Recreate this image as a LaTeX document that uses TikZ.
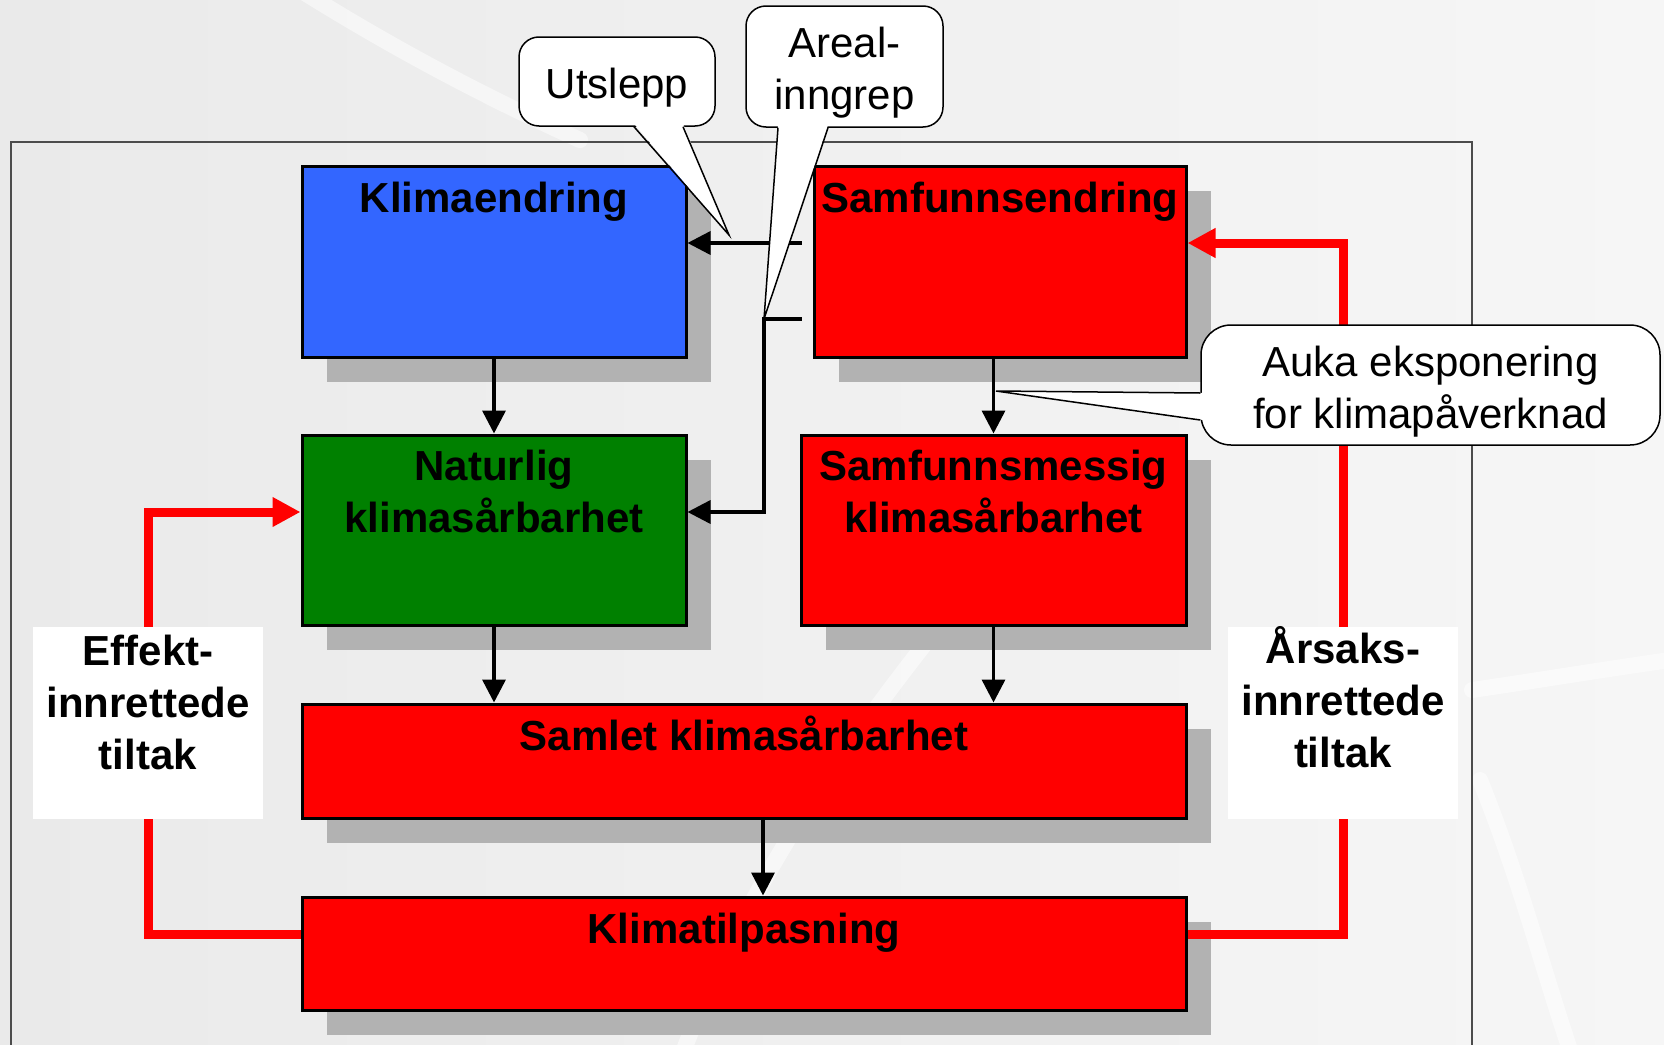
\documentclass[tikz,border=0pt]{standalone}
\usepackage{fontspec}
\setmainfont{Liberation Sans}
\usetikzlibrary{arrows.meta,shadows}

\definecolor{klimablue}{RGB}{51,102,255}
\definecolor{naturgreen}{RGB}{0,128,0}
\definecolor{samfred}{RGB}{255,0,0}
\definecolor{shadowgray}{RGB}{178,178,178}
\definecolor{bgleft}{RGB}{234,234,234}
\definecolor{bgright}{RGB}{246,246,246}
\newcommand{\bigfont}{\fontsize{42}{52}\selectfont}

\tikzset{
  box/.style={draw=black, line width=3pt, inner sep=0pt,
    drop shadow={shadow xshift=25pt, shadow yshift=-25pt, fill=shadowgray, opacity=1}},
  boxtext/.style={anchor=north, yshift=-8pt, inner sep=0pt, align=center,
    font=\bigfont\bfseries, execute at begin node=\rule{0pt}{40pt}},
  tiltak/.style={fill=white, inner sep=0pt, minimum width=230pt, minimum height=192pt},
  callout/.style={draw=black, fill=white, line width=1.5pt, rounded corners=20pt, inner sep=0pt},
  callouttext/.style={anchor=north, inner sep=0pt, align=center,
    font=\bigfont, execute at begin node=\rule{0pt}{40pt}},
  pointer/.style={draw=black, line width=1.5pt, line join=miter},
  arr/.style={draw=black, line width=3.5pt, -{Triangle[length=23pt,width=23pt]}},
  redarr/.style={draw=samfred, line width=9pt, -{Triangle[length=28pt,width=28pt]}},
  frameline/.style={draw=black!70, line width=1.5pt},
  streak/.style={white, line width=16pt, opacity=0.5, line cap=round}
}

\begin{document}
\begin{tikzpicture}[x=1pt, y=-1pt]
	\useasboundingbox (0,0) rectangle (1664,1044);
	\clip (0,0) rectangle (1664,1044);

	% background
	\shade[left color=bgleft, right color=bgright] (0,0) rectangle (1664,1044);
	\draw[streak] (300,-10) .. controls (380,40) and (470,90) .. (580,140);
	\draw[streak] (680,1060) .. controls (740,900) and (830,760) .. (960,600);
	\draw[streak] (1472,690) .. controls (1540,680) and (1600,670) .. (1670,660);
	\draw[streak] (1480,780) .. controls (1520,880) and (1540,960) .. (1570,1050);
	\draw[frameline] (11,1060) -- (11,142) -- (1472,142) -- (1472,1060);

	% fixed points
	\coordinate (effektmid) at (148,723);
	\coordinate (aarsakmid) at (1343,723);
	\coordinate (utslepptip) at (729,235);
	\coordinate (arealtip) at (764,319);
	\coordinate (aukatip) at (996,391);

	% boxes
	\node[box, fill=klimablue, minimum width=384pt, minimum height=191pt,
		label={[boxtext]north:Klimaendring}] (klima) at (494,261.5) {};
	\node[box, fill=samfred, minimum width=372pt, minimum height=191pt,
		label={[boxtext]north:Samfunnsendring}] (samf) at (1000,261.5) {};
	\node[box, fill=naturgreen, minimum width=384pt, minimum height=190pt,
		label={[boxtext, yshift=-8pt]north:Naturlig\\klimasårbarhet}] (natur) at (494,530) {};
	\node[box, fill=samfred, minimum width=385pt, minimum height=190pt,
		label={[boxtext, yshift=-8pt]north:Samfunnsmessig\\klimasårbarhet}] (samfmess) at (993.5,530) {};
	\node[box, fill=samfred, minimum width=884pt, minimum height=114pt,
		label={[boxtext]north:Samlet klimasårbarhet}] (samlet) at (744,761) {};
	\node[box, fill=samfred, minimum width=884pt, minimum height=113pt,
		label={[boxtext]north:Klimatilpasning}] (tilpas) at (744,953.5) {};

	% feedback loops
	\draw[redarr] ([yshift=19.5pt]tilpas.west) -| (effektmid) |- ([yshift=18pt]natur.west);
	\draw[redarr] ([yshift=19.5pt]tilpas.east) -| (aarsakmid) |- ([yshift=18.5pt]samf.east);

	% causal arrows
	\draw[arr] (klima) -- (natur);
	\draw[arr] (samf.south -| samfmess.north) -- (samfmess.north);
	\draw[arr] (natur.south) -- (natur.south |- samlet.north);
	\draw[arr] (samfmess.south) -- (samfmess.south |- samlet.north);
	\draw[arr] ([xshift=19pt]samlet.south) -- ([xshift=19pt]tilpas.north);
	\draw[arr, shorten <=11pt] ([yshift=18.5pt]samf.west) -- ([yshift=18.5pt]klima.east);
	\draw[arr, shorten <=11pt] ([yshift=-57.5pt]samf.west) -- (arealtip) |- ([yshift=18pt]natur.east);

	% measures
	\node[tiltak, label={[boxtext]north:Effekt-\\innrettede\\tiltak}] (effekt) at (effektmid) {};
	\node[tiltak, label={[boxtext, yshift=9pt]north:Årsaks-\\innrettede\\tiltak}] (aarsak) at (aarsakmid) {};

	% callouts
	\node[callout, minimum width=196pt, minimum height=89pt,
		label={[callouttext, yshift=-22pt]north:Utslepp}] (utslepp) at (617,81.5) {};
	\fill[white] ([xshift=17pt, yshift=3pt]utslepp.south) -- (utslepptip) -- ([xshift=66pt, yshift=3pt]utslepp.south) -- cycle;
	\draw[pointer] ([xshift=17pt]utslepp.south) -- (utslepptip) -- ([xshift=66pt]utslepp.south);

	\node[callout, minimum width=197pt, minimum height=121pt,
		label={[callouttext, yshift=-22pt]north:Areal-\\inngrep}] (areal) at (844.5,66.5) {};
	\fill[white] ([xshift=-66.5pt, yshift=3pt]areal.south) -- (arealtip) -- ([xshift=-16.5pt, yshift=3pt]areal.south) -- cycle;
	\draw[pointer] ([xshift=-66.5pt]areal.south) -- (arealtip) -- ([xshift=-16.5pt]areal.south);

	\node[callout, rounded corners=30pt, minimum width=459pt, minimum height=120pt,
		label={[callouttext, yshift=-22pt]north:Auka eksponering\\for klimapåverknad}] (auka) at (1430.5,385) {};
	\fill[white] ([xshift=3pt, yshift=-8pt]auka.west) -- (aukatip) -- ([xshift=3pt, yshift=-35pt]auka.west) -- cycle;
	\draw[pointer] ([yshift=-8pt]auka.west) -- (aukatip) -- ([yshift=-35pt]auka.west);
\end{tikzpicture}
\end{document}
